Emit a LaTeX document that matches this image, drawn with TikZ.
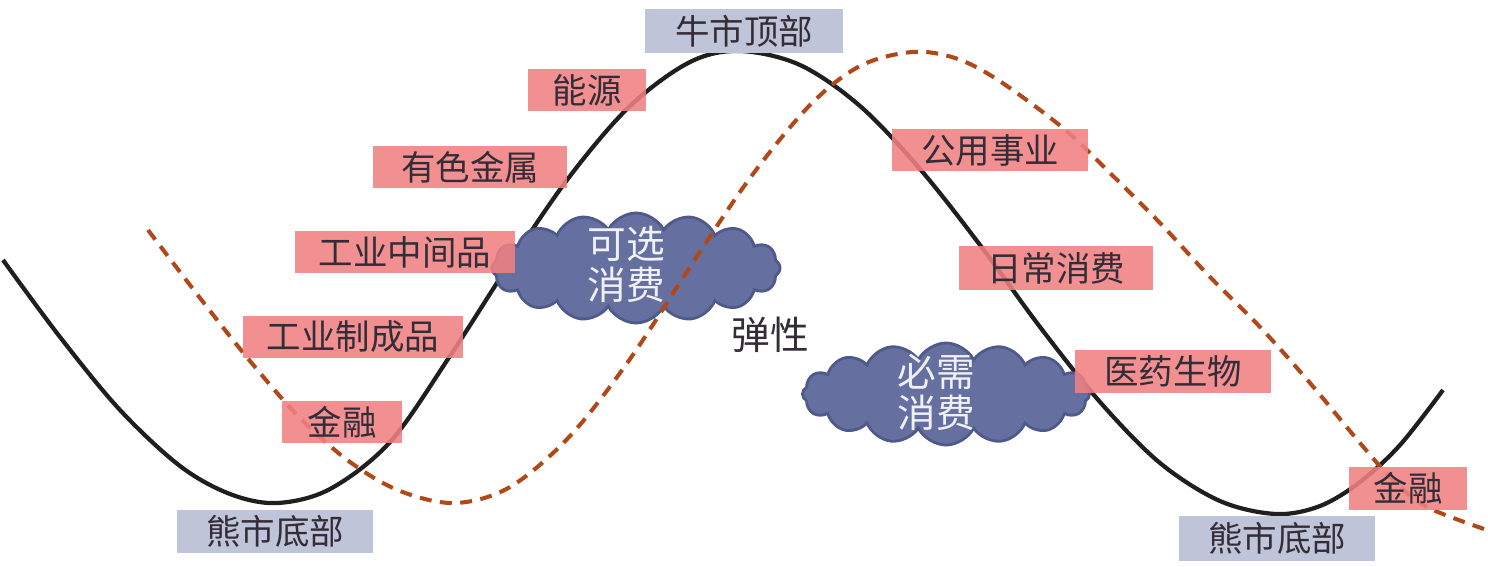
\documentclass[tikz,border=0pt]{standalone}
\usepackage{fontspec}
\setmainfont{Noto Sans CJK SC}
\usetikzlibrary{shapes.symbols}

\definecolor{tagred}{RGB}{240,128,130}
\definecolor{tagblue}{RGB}{192,196,216}
\definecolor{cloudfill}{RGB}{102,112,160}
\definecolor{cloudline}{RGB}{80,90,138}
\definecolor{lagline}{RGB}{176,72,24}
\definecolor{tagtext}{RGB}{50,45,55}

\begin{document}
\begin{tikzpicture}[
  x=0.01cm, y=-0.01cm,
  sector/.style={fill=tagred, fill opacity=0.88, text opacity=1, text=tagtext, inner sep=0pt, minimum height=0.42cm, font=\fontsize{9.8}{11}\selectfont},
  phase/.style={fill=tagblue, text=tagtext, inner sep=0pt, minimum height=0.43cm, minimum width=1.96cm, font=\fontsize{9.8}{11}\selectfont},
  puff/.style={cloud, cloud puffs=16, cloud puff arc=125, cloud ignores aspect, draw=cloudline, fill=cloudfill, line width=0.8pt, inner sep=0pt},
  puffnote/.style={text=white!90!cloudfill, align=center, inner sep=0pt, font=\fontsize{11}{11.6}\selectfont},
  market/.style={line width=1.2pt, black!88},
  sectorline/.style={line width=1.15pt, lagline, dash pattern=on 3.4pt off 2.4pt}
]
\useasboundingbox (0,0) rectangle (1488,566);

% market cycle
\draw[market] plot[smooth, tension=0.55] coordinates {(3,260) (60,337) (120,410) (180,466) (230,494) (277,503) (330,489) (390,442) (450,356) (510,263) (570,176) (630,106) (690,62) (740,51) (800,65) (860,106) (920,169) (980,245) (1040,327) (1100,402) (1160,463) (1220,501) (1276,514) (1320,506) (1360,482) (1400,445) (1443,390)};

% consumption clouds
\node[puff, minimum width=2.88cm, minimum height=1.1cm] (kexuan) at (636,268) {};
\node[puffnote] (kexuantxt) at (626,264) {可选\\消费};
\node[puff, minimum width=2.87cm, minimum height=1.02cm] (bixu) at (946,394) {};
\node[puffnote] (bixutxt) at (936,392) {必需\\消费};
\node[text=tagtext, font=\fontsize{11}{13}\selectfont] (tanxing) at (770,335) {弹性};

% sector rotation
\draw[sectorline] plot[smooth, tension=0.55] coordinates {(148,230) (200,298) (250,361) (300,418) (350,462) (400,491) (455,503) (510,487) (570,436) (630,359) (690,267) (750,178) (810,105) (860,66) (912,52) (955,58) (998,80) (1063,128) (1110,173) (1160,223) (1210,277) (1260,327) (1310,383) (1360,443) (1393,480) (1427,507) (1487,530)};

% phases
\node[phase, minimum width=1.97cm] (niuding) at (744,31) {牛市顶部};
\node[phase] (xiongdiL) at (275,531) {熊市底部};
\node[phase, minimum height=0.45cm] (xiongdiR) at (1277,538) {熊市底部};

% sectors
\node[sector, minimum width=1.17cm] (nengyuan) at (587,90) {能源};
\node[sector, minimum width=1.93cm] (youse) at (470,167) {有色金属};
\node[sector, minimum width=2.19cm] (zhongjian) at (405,252) {工业中间品};
\node[sector, minimum width=2.20cm] (zhicheng) at (353,337) {工业制成品};
\node[sector, minimum width=1.20cm] (jinrongL) at (342,422) {金融};
\node[sector, minimum width=1.96cm] (gongyong) at (990,150) {公用事业};
\node[sector, minimum width=1.93cm, minimum height=0.43cm] (richang) at (1056,268) {日常消费};
\node[sector, minimum width=1.96cm, minimum height=0.43cm] (yiyao) at (1173,371) {医药生物};
\node[sector, minimum width=1.17cm, minimum height=0.43cm] (jinrongR) at (1408,488) {金融};
\end{tikzpicture}
\end{document}
